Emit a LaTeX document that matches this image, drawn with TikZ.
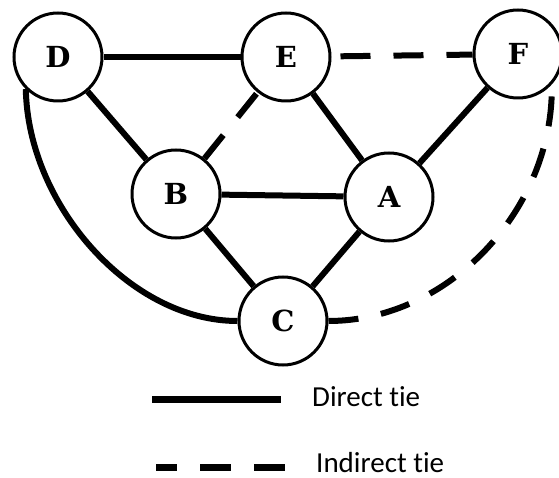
\documentclass[tikz,border=0pt]{standalone}
\usepackage{fontspec}
\setmainfont{Carlito}[Ligatures={NoCommon,NoRequired,NoContextual}]
\newfontfamily\actorfont{DejaVu Serif}
\begin{document}
\begin{tikzpicture}[x=1pt,y=-1pt,
  actor/.style={circle,draw,line width=3pt,minimum size=88pt,inner sep=0pt,
    fill=white,font=\actorfont\bfseries\fontsize{29}{29}\selectfont},
  tie/.style={line width=6pt},
  indirect/.style={line width=6pt,dash pattern=on 30pt off 23pt},
  legendtext/.style={anchor=west,inner sep=0pt,text depth=0pt,font=\fontsize{29}{29}\selectfont}]
\useasboundingbox (0,0) rectangle (559,478);
% actors
\node[actor] (D) at (58,57) {D};
\node[actor] (E) at (286,57) {E};
\node[actor] (F) at (518,54) {F};
\node[actor] (B) at (176,194) {B};
\node[actor] (A) at (389,197) {A};
\node[actor] (C) at (283,321) {C};
% direct ties
\draw[tie] (D) -- (E);
\draw[tie] (D) -- (B);
\draw[tie] (E) -- (A);
\draw[tie] (F) -- (A);
\draw[tie] (B) -- (A);
\draw[tie] (B) -- (C);
\draw[tie] (A) -- (C);
\draw[tie] (D.-135) .. controls +(2,115) and +(-108,0) .. (C.west);
% indirect ties
\draw[indirect,dash phase=44pt] (E) -- (F);
\draw[indirect] (B) -- (E);
\draw[indirect] (C.east) .. controls +(120,0) and +(2,125) .. (F.-42);
% legend
\coordinate (s1) at (152,399);
\coordinate (s2) at (281,399);
\coordinate (d1) at (156,467);
\coordinate (d2) at (285,467);
\draw[line width=7pt] (s1) -- (s2);
\draw[line width=7pt,dash pattern=on 31pt off 23pt,dash phase=10pt] (d1) -- (d2);
\node[legendtext] (lt1) at (312,397) {Direct t\kern0pt ie};
\node[legendtext] (lt2) at (316,462) {Indirect t\kern0pt ie};
\end{tikzpicture}
\end{document}
